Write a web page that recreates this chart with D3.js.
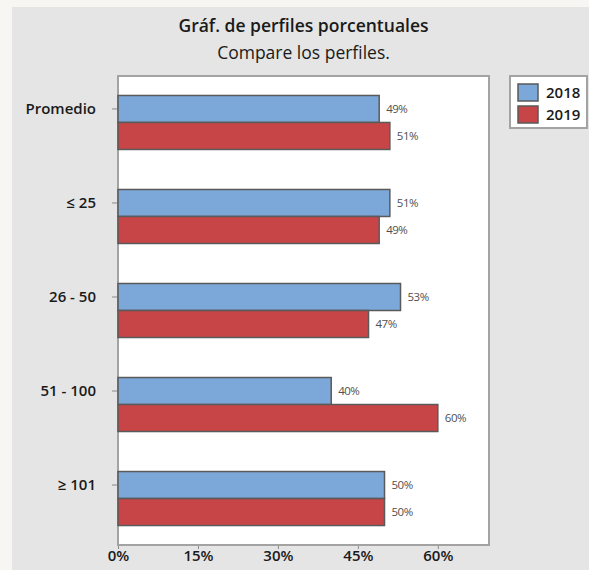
<!DOCTYPE html>
<html>
<head>
<meta charset="utf-8">
<script src="https://cdn.jsdelivr.net/npm/d3@7"></script>
<style>
  html, body { margin: 0; padding: 0; background: #f7f6f3; }
  svg { display: block; }
</style>
</head>
<body>
<svg id="chart" width="589" height="570"></svg>
<script>
// Profile categories (top to bottom) and the two compared years
const categories = ["Promedio", "≤ 25", "26 - 50", "51 - 100", "≥ 101"];
const seriesNames = ["2018", "2019"];
const values2018 = [49, 51, 53, 40, 50];
const values2019 = [51, 49, 47, 60, 50];
const xTicks = [0, 15, 30, 45, 60];
const seriesColors = ["#7ba7d9", "#c84547"];

const svg = d3.select("#chart");
const W = 589, H = 570;
const font = "'Open Sans', 'Noto Sans', sans-serif";

// Gray chart panel
svg.append("rect").attr("x", 12).attr("y", 7).attr("width", W - 12).attr("height", H - 7)
  .attr("fill", "#e5e5e5");

const plot = { left: 118, right: 489, top: 76, bottom: 545 };

const x = d3.scaleLinear().domain([0, 69.6]).range([plot.left, plot.right]);
const y = d3.scaleBand().domain(categories).range([plot.top, plot.bottom])
  .paddingInner(0.4255).paddingOuter(0.207);
const ySub = d3.scaleBand().domain(seriesNames).range([0, y.bandwidth()]);

// Plot area
svg.append("rect")
  .attr("x", plot.left).attr("y", plot.top)
  .attr("width", plot.right - plot.left).attr("height", plot.bottom - plot.top)
  .attr("fill", "#ffffff").attr("stroke", "#a3a3a3").attr("stroke-width", 2);

// Titles
const cx = (plot.left + plot.right) / 2;
svg.append("text").attr("x", cx).attr("y", 32).attr("text-anchor", "middle")
  .attr("font-family", font).attr("font-size", 17.5).attr("font-weight", 600)
  .attr("fill", "#1a1a1a").text("Gráf. de perfiles porcentuales");
svg.append("text").attr("x", cx).attr("y", 59).attr("text-anchor", "middle")
  .attr("font-family", font).attr("font-size", 17.5).attr("font-weight", 400)
  .attr("fill", "#1a1a1a").text("Compare los perfiles.");

// Bars
const rows = categories.map((c, i) => ({
  cat: c,
  vals: [{ s: "2018", v: values2018[i] }, { s: "2019", v: values2019[i] }]
}));

const groups = svg.append("g").selectAll("g").data(rows).join("g")
  .attr("transform", d => `translate(0,${y(d.cat)})`);

groups.selectAll("rect").data(d => d.vals).join("rect")
  .attr("x", x(0))
  .attr("y", d => ySub(d.s))
  .attr("width", d => x(d.v) - x(0))
  .attr("height", ySub.bandwidth())
  .attr("fill", d => seriesColors[seriesNames.indexOf(d.s)])
  .attr("stroke", "#5a5a5a").attr("stroke-width", 1.5);

groups.selectAll("text").data(d => d.vals).join("text")
  .attr("x", d => x(d.v) + 7)
  .attr("y", d => ySub(d.s) + ySub.bandwidth() / 2)
  .attr("dy", "0.35em")
  .attr("font-family", font).attr("font-size", 11.5).attr("letter-spacing", -0.5)
  .attr("fill", "#505050")
  .text(d => d.v + "%");

// Y axis: tick sits on the first series bar of each group
const yAxis = d3.axisLeft(y).tickSize(5).tickPadding(16);
const gy = svg.append("g").attr("transform", `translate(${plot.left - 1},${ySub.bandwidth() / 2 - y.bandwidth() / 2})`)
  .call(yAxis);
gy.select(".domain").remove();
gy.selectAll(".tick line").attr("stroke", "#8a8a8a");
gy.selectAll(".tick text").attr("font-family", font).attr("font-size", 15)
  .attr("font-weight", 600).attr("fill", "#1a1a1a");

// X axis
const xAxis = d3.axisBottom(x).tickValues(xTicks).tickFormat(d => d + "%").tickSize(3).tickPadding(1);
const gx = svg.append("g").attr("transform", `translate(0,${plot.bottom + 1})`).call(xAxis);
gx.select(".domain").remove();
gx.selectAll(".tick line").attr("stroke", "#8a8a8a");
gx.selectAll(".tick text").attr("font-family", font).attr("font-size", 15)
  .attr("font-weight", 600).attr("fill", "#1a1a1a");

// Legend
const lg = svg.append("g");
lg.append("rect").attr("x", 510).attr("y", 76).attr("width", 77).attr("height", 52)
  .attr("fill", "#ffffff").attr("stroke", "#a3a3a3").attr("stroke-width", 2);
seriesNames.forEach((s, i) => {
  const yy = 84 + i * 22;
  lg.append("rect").attr("x", 518).attr("y", yy).attr("width", 20).attr("height", 17)
    .attr("fill", seriesColors[i]).attr("stroke", "#5a5a5a").attr("stroke-width", 1.5);
  lg.append("text").attr("x", 546).attr("y", yy + 8.5).attr("dy", "0.35em")
    .attr("font-family", font).attr("font-size", 15).attr("font-weight", 600)
    .attr("fill", "#1a1a1a").text(s);
});
</script>
</body>
</html>
